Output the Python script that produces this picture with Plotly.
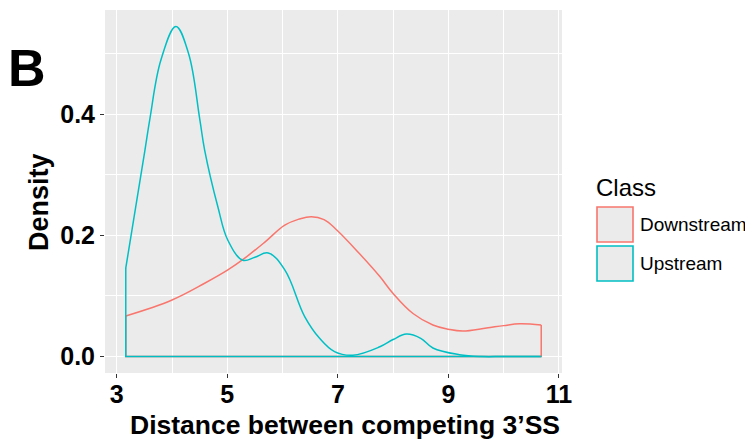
import plotly.graph_objects as go

# ---- data ----
classes = ["Downstream", "Upstream"]

down_x = [3.163, 3.99, 4.59, 5.01, 5.31, 5.68, 6.04, 6.30, 6.52, 6.75, 6.98, 7.39,
          7.76, 8.00, 8.36, 8.72, 9.00, 9.26, 9.69, 10.00, 10.29, 10.68]
down_y = [0.067, 0.093, 0.121, 0.143, 0.162, 0.189, 0.217, 0.227, 0.231, 0.226, 0.209, 0.170,
          0.132, 0.104, 0.071, 0.052, 0.045, 0.042, 0.047, 0.051, 0.054, 0.052]

up_x = [3.163, 3.51, 3.60, 3.80, 4.07, 4.30, 4.50, 4.59, 4.83, 5.01, 5.28, 5.50, 5.74,
        6.04, 6.40, 6.67, 6.94, 7.27, 7.76, 8.00, 8.24, 8.50, 8.72, 9.20, 9.60, 10.00, 10.68]
up_y = [0.146, 0.341, 0.393, 0.490, 0.545, 0.500, 0.393, 0.341, 0.247, 0.192, 0.159, 0.164, 0.171,
        0.143, 0.066, 0.030, 0.008, 0.002, 0.016, 0.028, 0.037, 0.030, 0.014, 0.003, 0.000, 0.000, 0.000]

x_ticks = [3, 5, 7, 9, 11]
y_ticks = [0.0, 0.2, 0.4]

colors = {"Downstream": "#F8766D", "Upstream": "#00BFC4"}
series = {"Downstream": (down_x, down_y), "Upstream": (up_x, up_y)}

# ---- layout geometry ----
# The page body has an 8px default margin, so the figure is drawn 8px in/down.
OFF = 8
PAGE_W, PAGE_H = 753, 439
W, H = PAGE_W - OFF, PAGE_H - OFF
PANEL_L, PANEL_R, PANEL_T, PANEL_B = 105, 562, 10, 373   # in page pixels
L, T = PANEL_L - OFF, PANEL_T - OFF
R, B = PAGE_W - PANEL_R, PAGE_H - PANEL_B
pw, ph = PANEL_R - PANEL_L, PANEL_B - PANEL_T


def px(xp):
    return (xp - PANEL_L) / pw


def py(yp):
    return (PANEL_B - yp) / ph


FONT = "Liberation Sans, Arial, Helvetica, sans-serif"

fig = go.Figure()
for name in classes:
    xs, ys = series[name]
    c = colors[name]
    # density curve
    fig.add_trace(go.Scatter(x=xs, y=ys, mode="lines", name=name, showlegend=False,
                             line=dict(color=c, width=1.5, shape="spline", smoothing=1.1),
                             hoverinfo="skip"))
    # polygon closure (verticals + baseline), as in geom_density outline
    fig.add_trace(go.Scatter(x=[xs[0], xs[0], xs[-1], xs[-1]], y=[ys[0], 0, 0, ys[-1]],
                             mode="lines", showlegend=False, hoverinfo="skip",
                             line=dict(color=c, width=1.5)))

xmin, xmax = min(down_x + up_x), max(down_x + up_x)
ymax = max(down_y + up_y)
xr = xmax - xmin
tickfont = dict(family=FONT, size=25, color="black", weight="bold")
fig.update_xaxes(range=[xmin - 0.05 * xr, xmax + 0.05 * xr], automargin=False,
                 tickvals=x_ticks, ticktext=[str(v) for v in x_ticks],
                 showgrid=True, gridcolor="white", gridwidth=1.3,
                 minor=dict(dtick=1, tick0=3, showgrid=True, gridcolor="white", gridwidth=0.6),
                 ticks="outside", ticklen=4, tickwidth=1, tickcolor="#333333",
                 ticklabelstandoff=-5,
                 tickfont=tickfont, zeroline=False, showline=False)
fig.update_yaxes(range=[-0.05 * ymax, ymax * 1.05], automargin=False,
                 tickvals=y_ticks, ticktext=[f"{v:.1f}" for v in y_ticks],
                 showgrid=True, gridcolor="white", gridwidth=1.3,
                 minor=dict(dtick=0.1, tick0=0, showgrid=True, gridcolor="white", gridwidth=0.6),
                 ticks="outside", ticklen=4, tickwidth=1, tickcolor="#333333",
                 tickfont=tickfont, zeroline=False, showline=False)

shapes = []
annotations = []
# Axis titles
annotations.append(dict(text="<b>Distance between competing 3’SS</b>", x=px(345), y=py(425),
                        xref="paper", yref="paper", showarrow=False,
                        xanchor="center", yanchor="middle",
                        font=dict(family=FONT, size=26.5, color="black")))
annotations.append(dict(text="<b>Density</b>", x=px(39), y=py(202), textangle=-90,
                        xref="paper", yref="paper", showarrow=False,
                        xanchor="center", yanchor="middle",
                        font=dict(family=FONT, size=27, color="black")))
# Panel letter
annotations.append(dict(text="<b>B</b>", x=px(27), y=py(68), xref="paper", yref="paper",
                        showarrow=False, xanchor="center", yanchor="middle",
                        font=dict(family=FONT, size=52, color="black")))
# Legend
annotations.append(dict(text="Class", x=px(594), y=py(187), xref="paper", yref="paper",
                        showarrow=False, xanchor="left", yanchor="middle",
                        font=dict(family=FONT, size=24, color="black")))
box_tops = [207, 246]
for name, top in zip(classes, box_tops):
    shapes.append(dict(type="rect", xref="paper", yref="paper",
                       x0=px(597), x1=px(633), y0=py(top + 35), y1=py(top),
                       fillcolor="#EBEBEB", line=dict(color=colors[name], width=1.6)))
    annotations.append(dict(text=name, x=px(638), y=py(top + 17.5), xref="paper", yref="paper",
                            showarrow=False, xanchor="left", yanchor="middle",
                            font=dict(family=FONT, size=19, color="black")))

fig.update_layout(width=W, height=H, margin=dict(l=L, r=R, t=T, b=B),
                  plot_bgcolor="#EBEBEB", paper_bgcolor="white",
                  showlegend=False, shapes=shapes, annotations=annotations)

fig.write_html("out.html")
